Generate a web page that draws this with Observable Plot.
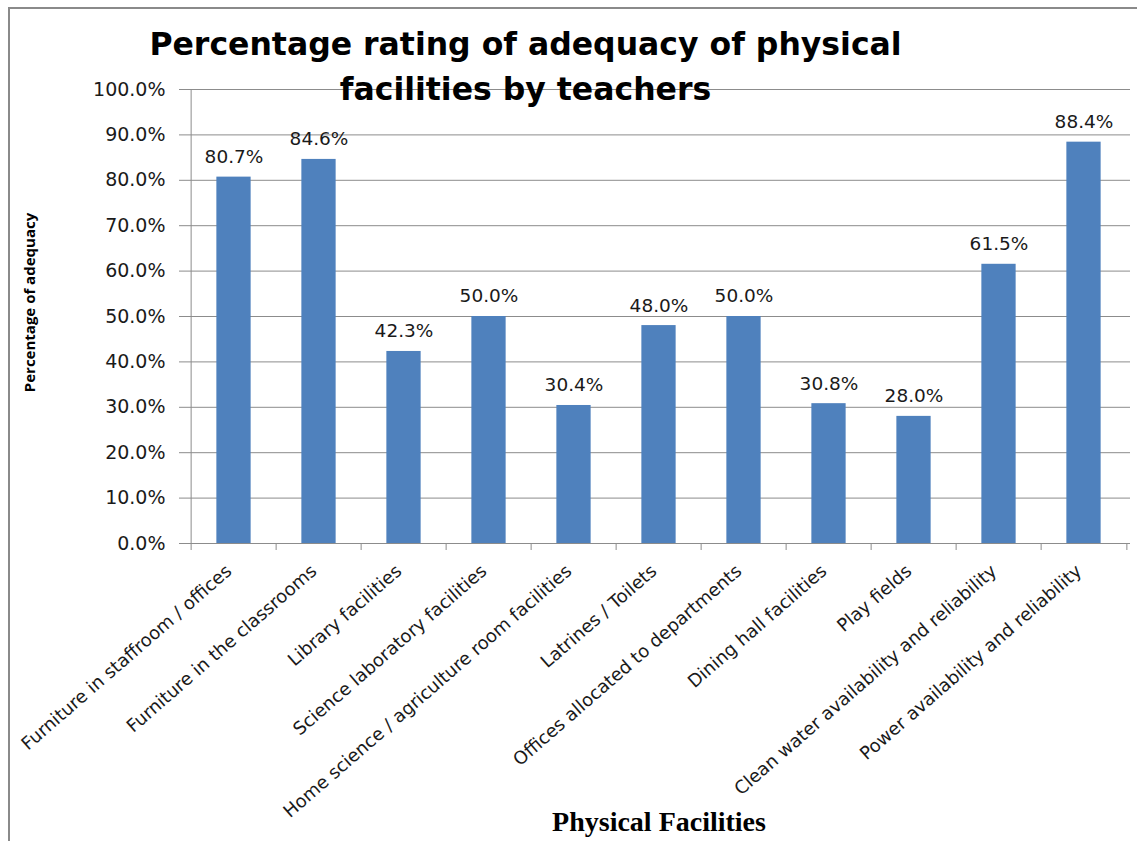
<!DOCTYPE html>
<html>
<head>
<meta charset="utf-8">
<script src="https://cdn.jsdelivr.net/npm/d3@7"></script>
<script src="https://cdn.jsdelivr.net/npm/@observablehq/plot@0.6"></script>
<style>
  html, body { margin: 0; padding: 0; background: #fff; }
  #wrap { position: relative; width: 1137px; height: 841px; overflow: hidden; }
  #edge { position: absolute; left: 8px; top: 7px; right: -4px; bottom: -4px;
          border-top: 2px solid #8a8a8a; border-left: 2px solid #8a8a8a; }
  #chart { position: absolute; left: 0; top: 0; }
</style>
</head>
<body>
<div id="wrap"><div id="edge"></div><div id="chart"></div></div>
<script>
// Share of teachers rating each facility as adequate
const facilities = [
  "Furniture in staffroom / offices",
  "Furniture in the classrooms",
  "Library facilities",
  "Science laboratory facilities",
  "Home science / agriculture room facilities",
  "Latrines / Toilets",
  "Offices allocated to departments",
  "Dining hall facilities",
  "Play fields",
  "Clean water availability and reliability",
  "Power availability and reliability"
];
const adequacy = [0.807, 0.846, 0.423, 0.500, 0.304, 0.480, 0.500, 0.308, 0.280, 0.615, 0.884];
const yTicks = [0, 0.1, 0.2, 0.3, 0.4, 0.5, 0.6, 0.7, 0.8, 0.9, 1.0];
const titleLines = ["Percentage rating of adequacy of physical", "facilities by teachers"];
const yTitle = "Percentage of adequacy";
const xTitle = "Physical Facilities";

const rows = facilities.map((name, i) => ({name, value: adequacy[i]}));
const pct = d3.format(".1%");

const W = 1137, H = 841;
const mL = 187, mR = 7, mT = 89, mB = 298;
const step = (W - mL - mR) / facilities.length;
const barW = 35;
const frameCx = mL + (W - mL - mR) / 2;
const frameCy = mT + (H - mT - mB) / 2;

const font = "'DejaVu Sans', sans-serif";
const ink = "#1a1a1a";
const lineColor = "#8c8c8c";

const chart = Plot.plot({
  width: W,
  height: H,
  marginLeft: mL,
  marginRight: mR,
  marginTop: mT,
  marginBottom: mB,
  style: {fontFamily: font, fontSize: "18px", color: ink, background: "transparent"},
  x: {domain: facilities, padding: 0, label: null},
  y: {domain: [0, 1], label: null},
  marks: [
    Plot.gridY(yTicks, {stroke: lineColor, strokeOpacity: 1, strokeWidth: 1}),
    Plot.barY(rows, {x: "name", y: "value", fill: "#4f81bd",
                     insetLeft: (step - barW) / 2, insetRight: (step - barW) / 2}),
    Plot.axisY({ticks: yTicks, tickFormat: pct, tickSize: 8, tickPadding: 14,
                stroke: lineColor, fontSize: 19, fill: ink, label: null}),
    Plot.axisX({tickSize: 0, tickRotate: -41, tickPadding: 25, dx: -5, fontSize: 18,
                fill: ink, label: null}),
    // category separators hanging below the baseline
    Plot.ruleX(facilities, {x: d => d, y1: 0, y2: 0, insetTop: 7, dx: -step / 2, stroke: lineColor}),
    Plot.ruleX([facilities[facilities.length - 1]], {x: d => d, y1: 0, y2: 0, insetTop: 7,
                                                     dx: step / 2, stroke: lineColor}),
    Plot.ruleY([0], {stroke: lineColor}),
    Plot.ruleX([facilities[0]], {x: d => d, y1: 0, y2: 1, dx: -step / 2, stroke: lineColor}),
    Plot.text(rows, {x: "name", y: "value", text: d => pct(d.value), dy: -20,
                     fontSize: 18.5, fill: ink}),
    // titles
    Plot.text([titleLines[0]], {frameAnchor: "top", dx: 525 - frameCx, dy: 32 - mT,
                                text: d => d, fontSize: 31.5, fontWeight: "bold", fill: "#000"}),
    Plot.text([titleLines[1]], {frameAnchor: "top", dx: 525 - frameCx, dy: 77 - mT,
                                text: d => d, fontSize: 31.5, fontWeight: "bold", fill: "#000"}),
    Plot.text([yTitle], {frameAnchor: "left", textAnchor: "middle", dx: 30 - mL,
                         dy: 302 - frameCy, rotate: -90,
                         text: d => d, fontSize: 15, fontWeight: "bold", fill: "#000",
                         fontFamily: "'Open Sans', sans-serif"}),
    Plot.text([xTitle], {frameAnchor: "bottom", dy: 830 - (H - mB),
                         text: d => d, fontSize: 28, fontWeight: "bold", fill: "#000",
                         fontFamily: "'Liberation Serif', 'Times New Roman', serif"})
  ]
});

document.getElementById("chart").appendChild(chart);
</script>
</body>
</html>
